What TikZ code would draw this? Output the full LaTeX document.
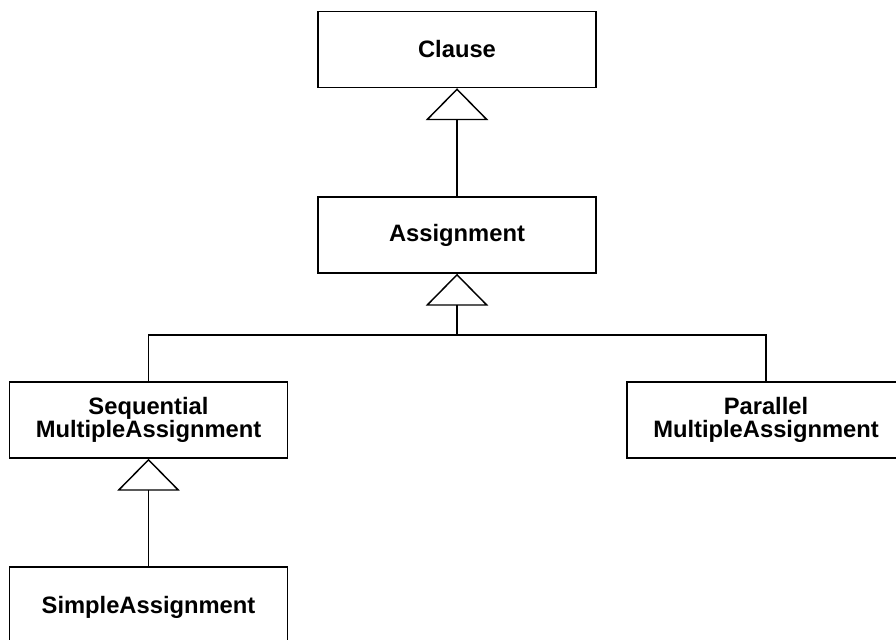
\documentclass[tikz,border=0pt]{standalone}
\usepackage{fontspec}
\setmainfont{Liberation Sans}
\usetikzlibrary{arrows.meta}
\begin{document}
\begin{tikzpicture}[x=0.75pt,y=-0.75pt,
  cls/.style={draw, line width=1.1pt, minimum width=278*0.75pt, minimum height=76*0.75pt,
    inner sep=0pt, align=center, font=\fontsize{17.8}{17.5}\selectfont\bfseries},
  link/.style={line width=1.1pt},
  inherit/.style={link, -{Triangle[open, length=24pt, width=47pt, line width=1.1pt]}}]
\useasboundingbox (0,0) rectangle (896,639);
\clip (0,0) rectangle (896,639);
% class boxes
\node[cls] (clause) at (457,49.5) {Clause};
\node[cls] (assign) at (457,235) {Assignment};
\node[cls] (seq) at (148.5,420) {Sequential\\MultipleAssignment};
\node[cls] (par) at (766,420) {Parallel\\MultipleAssignment};
\node[cls, minimum height=80*0.75pt] (simple) at (148.5,607) {SimpleAssignment};
% generalisation links
\coordinate (join) at (457,335);
\draw[inherit] (assign.north) -- (clause.south);
\draw[inherit] (join) -- (assign.south);
\draw[link] (seq.north) |- (join) -| (par.north);
\draw[inherit] (simple.north) -- (seq.south);
\end{tikzpicture}
\end{document}
